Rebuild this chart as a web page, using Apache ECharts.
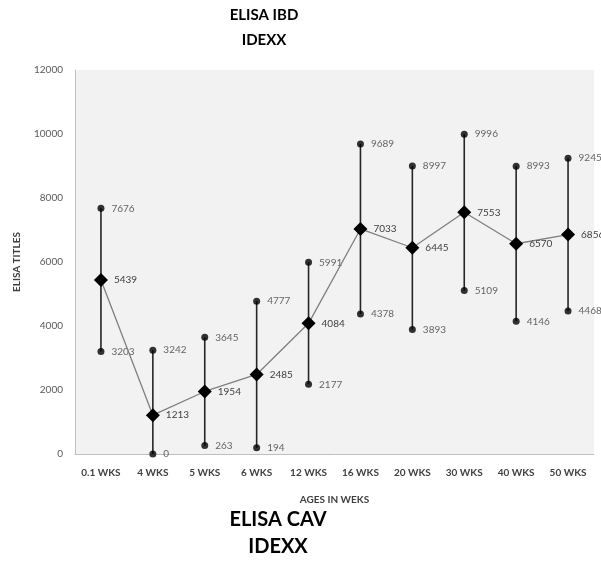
<!DOCTYPE html>
<html>
<head>
<meta charset="utf-8">
<script src="https://cdn.jsdelivr.net/npm/echarts@6/dist/echarts.min.js"></script>
<style>
  html, body { margin: 0; padding: 0; background: #ffffff; }
  #chart { width: 601px; height: 561px; }
</style>
</head>
<body>
<div id="chart"></div>
<script>
// Ages at sampling and ELISA titres (mean with min/max range)
const ages = ['0.1 WKS', '4 WKS', '5 WKS', '6 WKS', '12 WKS', '16 WKS', '20 WKS', '30 WKS', '40 WKS', '50 WKS'];
const meanTitre = [5439, 1213, 1954, 2485, 4084, 7033, 6445, 7553, 6570, 6856];
const maxTitre = [7676, 3242, 3645, 4777, 5991, 9689, 8997, 9996, 8993, 9245];
const minTitre = [3203, 0, 263, 194, 2177, 4378, 3893, 5109, 4146, 4468];
const yTicks = [0, 2000, 4000, 6000, 8000, 10000, 12000];

const FONT = 'Lato, "Open Sans", sans-serif';
const chart = echarts.init(document.getElementById('chart'), null, { renderer: 'canvas' });

const rangeData = ages.map((a, i) => [i, minTitre[i], maxTitre[i]]);
const pointLabel = {
  show: true, position: 'right', distance: 7,
  fontFamily: FONT, fontSize: 10, fontWeight: 'normal', color: '#404040',
  textBorderWidth: 0
};

chart.setOption({
  animation: false,
  backgroundColor: '#ffffff',
  grid: { left: 75, top: 70, right: 7, bottom: 107, backgroundColor: '#f2f2f2', show: true, borderWidth: 0 },
  xAxis: {
    type: 'category',
    data: ages,
    boundaryGap: true,
    name: 'AGES IN WEKS',
    nameLocation: 'middle',
    nameGap: 41,
    nameTextStyle: { fontFamily: FONT, fontWeight: 'bold', fontSize: 10, color: '#404040' },
    axisLine: { lineStyle: { color: '#bfbfbf', width: 1 } },
    axisTick: { show: false },
    axisLabel: { fontFamily: FONT, fontWeight: 'bold', fontSize: 10, color: '#404040', margin: 14, interval: 0 },
    splitLine: { show: false }
  },
  yAxis: {
    type: 'value',
    min: yTicks[0],
    max: yTicks[yTicks.length - 1],
    interval: 2000,
    name: 'ELISA TITLES',
    nameLocation: 'middle',
    nameGap: 53,
    nameRotate: 90,
    nameTextStyle: { fontFamily: FONT, fontWeight: 'bold', fontSize: 10, color: '#404040' },
    axisLine: { show: true, lineStyle: { color: '#bfbfbf', width: 1 } },
    axisTick: { show: false },
    axisLabel: { fontFamily: FONT, fontSize: 10, color: '#595959', margin: 12, formatter: v => String(v) },
    splitLine: { show: false }
  },
  series: [
    {
      // vertical min–max range bars
      type: 'custom',
      data: rangeData,
      z: 2,
      renderItem: function (params, api) {
        const lo = api.coord([api.value(0), api.value(1)]);
        const hi = api.coord([api.value(0), api.value(2)]);
        return {
          type: 'line',
          shape: { x1: lo[0], y1: lo[1], x2: hi[0], y2: hi[1] },
          style: { stroke: '#262626', lineWidth: 1.6 }
        };
      }
    },
    {
      type: 'scatter',
      data: maxTitre.map((v, i) => [i, v]),
      symbol: 'circle',
      symbolSize: 7,
      itemStyle: { color: '#000000' },
      label: Object.assign({}, pointLabel, { formatter: p => String(p.value[1]) }),
      z: 3
    },
    {
      type: 'scatter',
      data: minTitre.map((v, i) => [i, v]),
      symbol: 'circle',
      symbolSize: 7,
      itemStyle: { color: '#000000' },
      label: Object.assign({}, pointLabel, { formatter: p => String(p.value[1]) }),
      z: 3
    },
    {
      type: 'line',
      data: meanTitre,
      symbol: 'diamond',
      symbolSize: 14,
      showAllSymbol: true,
      lineStyle: { color: '#7f7f7f', width: 1.3 },
      itemStyle: { color: '#000000' },
      label: Object.assign({}, pointLabel, { distance: 6 }),
      z: 4
    }
  ],
  graphic: [
    { type: 'text', x: 264, y: 15, style: { text: 'ELISA IBD', fontFamily: FONT, fontWeight: 'bold', fontSize: 15, fill: '#000000', align: 'center', verticalAlign: 'middle' } },
    { type: 'text', x: 264, y: 40, style: { text: 'IDEXX', fontFamily: FONT, fontWeight: 'bold', fontSize: 15, fill: '#000000', align: 'center', verticalAlign: 'middle' } },
    { type: 'text', x: 278, y: 520, style: { text: 'ELISA CAV', fontFamily: FONT, fontWeight: 'bold', fontSize: 20, fill: '#000000', align: 'center', verticalAlign: 'middle' } },
    { type: 'text', x: 278, y: 547, style: { text: 'IDEXX', fontFamily: FONT, fontWeight: 'bold', fontSize: 20, fill: '#000000', align: 'center', verticalAlign: 'middle' } }
  ]
});
</script>
</body>
</html>
